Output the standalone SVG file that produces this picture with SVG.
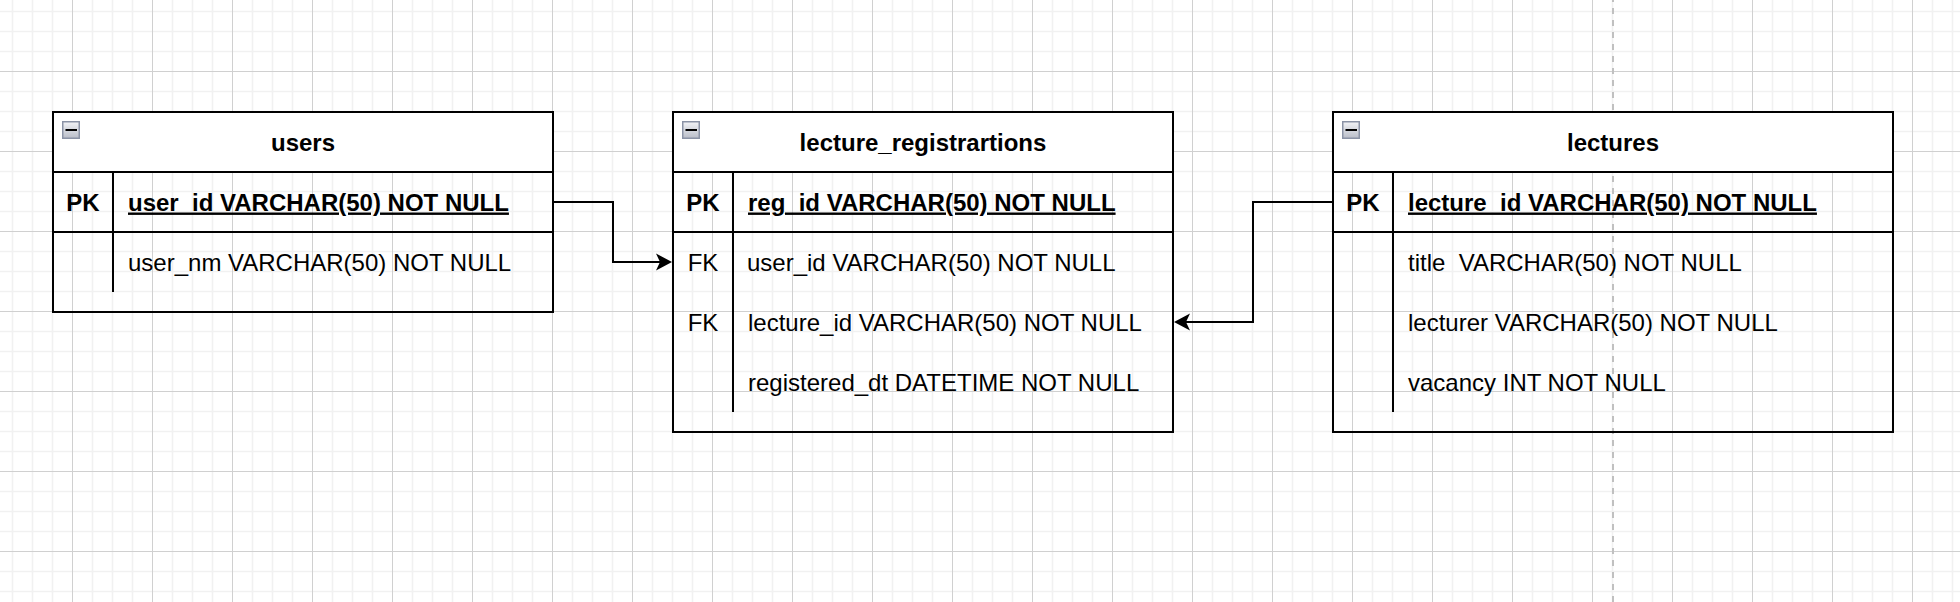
<svg xmlns="http://www.w3.org/2000/svg" width="1960" height="602" viewBox="0 0 1960 602">
  <style>
    .box { fill: none; stroke: #000; stroke-width: 2; }
    .hdr { fill: #fff; stroke: #000; stroke-width: 2; }
    .sep { stroke: #000; stroke-width: 2; fill: none; }
    .t { font-family: "Liberation Sans", Arial, Helvetica, sans-serif; font-size: 24px; fill: #000; }
    .b { font-weight: bold; }
    .c { text-anchor: middle; }
    .u { text-decoration: underline; }
    .pre { white-space: pre; }
    .edge { fill: none; stroke: #000; stroke-width: 2; }
  </style>
  <defs>
    <pattern id="grid" x="72" y="71" width="80" height="80" patternUnits="userSpaceOnUse">
      <g stroke="#f1f1f1" stroke-width="1.6">
        <line x1="20.5" y1="0" x2="20.5" y2="80"/>
        <line x1="40.5" y1="0" x2="40.5" y2="80"/>
        <line x1="60.5" y1="0" x2="60.5" y2="80"/>
        <line x1="0" y1="20.5" x2="80" y2="20.5"/>
        <line x1="0" y1="40.5" x2="80" y2="40.5"/>
        <line x1="0" y1="60.5" x2="80" y2="60.5"/>
      </g>
      <g stroke="#d0d0d0" stroke-width="1">
        <line x1="0.5" y1="0" x2="0.5" y2="80"/>
        <line x1="0" y1="0.5" x2="80" y2="0.5"/>
      </g>
    </pattern>
    <linearGradient id="iconGrad" x1="0" y1="0" x2="0" y2="1">
      <stop offset="0" stop-color="#f2f3f6"/>
      <stop offset="1" stop-color="#b9bdc8"/>
    </linearGradient>
    <g id="collapse">
      <rect x="0.75" y="0.75" width="16.5" height="16.5" fill="url(#iconGrad)" stroke="#8b93a6" stroke-width="1.5"/>
      <line x1="3.5" y1="9" x2="15" y2="9" stroke="#000" stroke-width="2"/>
    </g>
    <marker id="arrow" markerUnits="userSpaceOnUse" markerWidth="20" markerHeight="20" viewBox="0 0 20 20" refX="8" refY="10" orient="auto">
      <path d="M2,1.5 L18,10 L2,18.5 L6,10 Z" fill="#000"/>
    </marker>
  </defs>

  <rect x="0" y="0" width="1960" height="602" fill="#ffffff"/>
  <rect x="0" y="0" width="1960" height="602" fill="url(#grid)"/>
  <line x1="1613" y1="0" x2="1613" y2="602" stroke="#c0c0c0" stroke-width="2" stroke-dasharray="6 6" stroke-dashoffset="4"/>

  <g id="users">
    <rect class="hdr" x="53" y="112" width="500" height="60"/>
    <rect class="box" x="53" y="112" width="500" height="200"/>
    <line class="sep" x1="53" y1="232" x2="553" y2="232"/>
    <line class="sep" x1="113" y1="172" x2="113" y2="292"/>
    <use href="#collapse" x="62" y="121"/>
    <text class="t b c" x="303" y="150.5">users</text>
    <text class="t b c" x="83" y="210.5">PK</text>
    <text class="t b u" x="128" y="210.5">user_id VARCHAR(50) NOT NULL</text>
    <text class="t" x="128" y="270.5">user_nm VARCHAR(50) NOT NULL</text>
  </g>

  <g id="lecture_registrartions">
    <rect class="hdr" x="673" y="112" width="500" height="60"/>
    <rect class="box" x="673" y="112" width="500" height="320"/>
    <line class="sep" x1="673" y1="232" x2="1173" y2="232"/>
    <line class="sep" x1="733" y1="172" x2="733" y2="412"/>
    <use href="#collapse" x="682" y="121"/>
    <text class="t b c" x="923" y="150.5">lecture_registrartions</text>
    <text class="t b c" x="703" y="210.5">PK</text>
    <text class="t b u" x="748" y="210.5">reg_id VARCHAR(50) NOT NULL</text>
    <text class="t c" x="703" y="270.5">FK</text>
    <text class="t" x="747" y="270.5">user_id VARCHAR(50) NOT NULL</text>
    <text class="t c" x="703" y="330.5">FK</text>
    <text class="t" x="748" y="330.5">lecture_id VARCHAR(50) NOT NULL</text>
    <text class="t" x="748" y="390.5">registered_dt DATETIME NOT NULL</text>
  </g>

  <g id="lectures">
    <rect class="hdr" x="1333" y="112" width="560" height="60"/>
    <rect class="box" x="1333" y="112" width="560" height="320"/>
    <line class="sep" x1="1333" y1="232" x2="1893" y2="232"/>
    <line class="sep" x1="1393" y1="172" x2="1393" y2="412"/>
    <use href="#collapse" x="1342" y="121"/>
    <text class="t b c" x="1613" y="150.5">lectures</text>
    <text class="t b c" x="1363" y="210.5">PK</text>
    <text class="t b u" x="1408" y="210.5">lecture_id VARCHAR(50) NOT NULL</text>
    <text class="t pre" x="1408" y="270.5" xml:space="preserve">title  VARCHAR(50) NOT NULL</text>
    <text class="t" x="1408" y="330.5">lecturer VARCHAR(50) NOT NULL</text>
    <text class="t" x="1408" y="390.5">vacancy INT NOT NULL</text>
  </g>

  <g id="connectors">
    <path class="edge" d="M553,202 L613,202 L613,262 L662,262" marker-end="url(#arrow)"/>
    <path class="edge" d="M1333,202 L1253,202 L1253,322 L1184,322" marker-end="url(#arrow)"/>
  </g>
</svg>
